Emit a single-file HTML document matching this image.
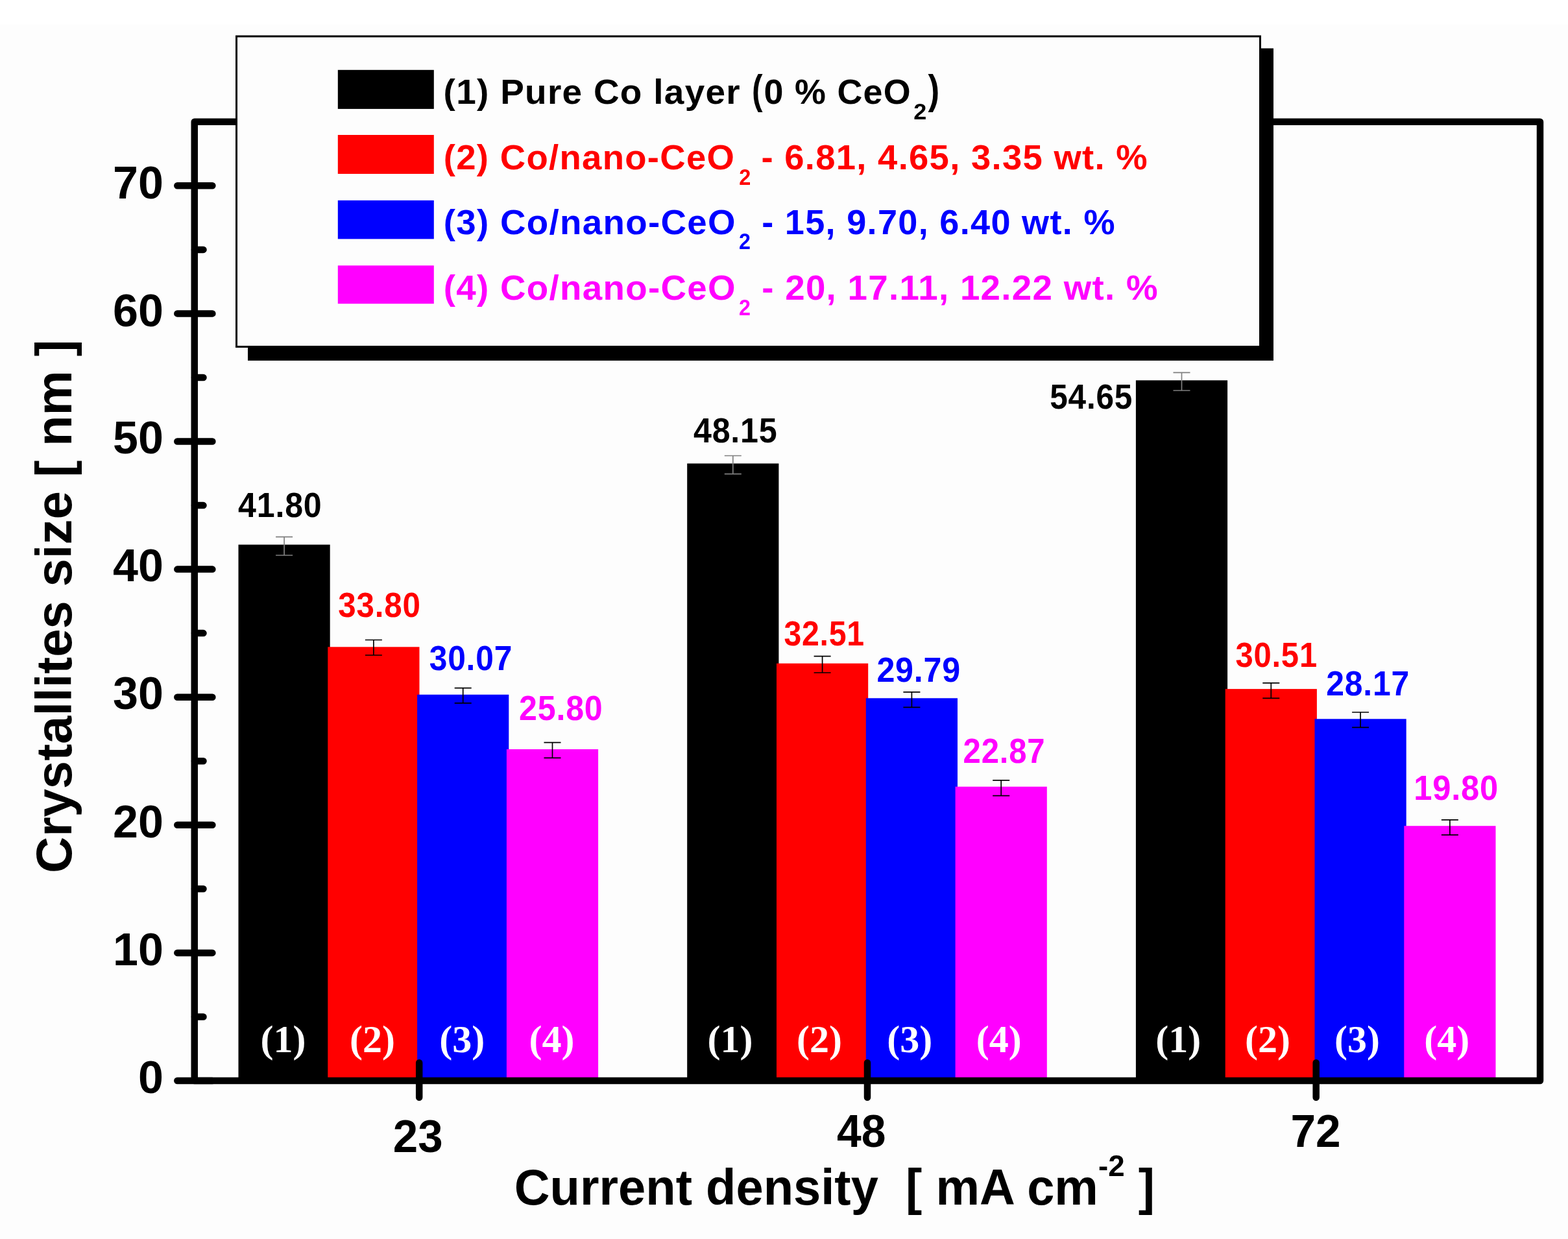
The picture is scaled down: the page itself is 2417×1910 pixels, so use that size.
<!DOCTYPE html>
<html><head><meta charset="utf-8"><title>Crystallites size vs current density</title>
<style>html,body{margin:0;padding:0;background:#fdfdfd;}svg{display:block;}</style></head>
<body>
<svg width="2417" height="1910" viewBox="0 0 2417 1910">
<rect x="0" y="0" width="2417" height="1910" fill="#fdfdfd"/>
<rect x="0" y="0" width="2417" height="38" fill="#ffffff"/>
<rect x="367.5" y="839.6" width="141.2" height="826.4" fill="#000000"/>
<rect x="505.3" y="997.3" width="141.2" height="668.7" fill="#ff0000"/>
<rect x="643.1" y="1070.8" width="141.2" height="595.2" fill="#0000ff"/>
<rect x="780.9" y="1155.0" width="141.2" height="511.0" fill="#ff00ff"/>
<rect x="1059.2" y="714.5" width="141.2" height="951.5" fill="#000000"/>
<rect x="1197.0" y="1022.7" width="141.2" height="643.3" fill="#ff0000"/>
<rect x="1334.8" y="1076.3" width="141.2" height="589.7" fill="#0000ff"/>
<rect x="1472.6" y="1212.7" width="141.2" height="453.3" fill="#ff00ff"/>
<rect x="1750.9" y="586.3" width="141.2" height="1079.7" fill="#000000"/>
<rect x="1888.7" y="1062.1" width="141.2" height="603.9" fill="#ff0000"/>
<rect x="2026.5" y="1108.3" width="141.2" height="557.7" fill="#0000ff"/>
<rect x="2164.3" y="1273.2" width="141.2" height="392.8" fill="#ff00ff"/>
<path d="M425.1 827.6H451.1M438.1 827.6V856.0M425.1 856.0H451.1" stroke="#808080" stroke-width="1.7" fill="none"/>
<path d="M562.9 986.5H588.9M575.9 986.5V1010.0M562.9 1010.0H588.9" stroke="#000" stroke-width="1.7" fill="none"/>
<path d="M700.7 1060.6H726.7M713.7 1060.6V1083.9M700.7 1083.9H726.7" stroke="#000" stroke-width="1.7" fill="none"/>
<path d="M838.5 1144.7H864.5M851.5 1144.7V1168.3M838.5 1168.3H864.5" stroke="#000" stroke-width="1.7" fill="none"/>
<path d="M1116.8 702.5H1142.8M1129.8 702.5V730.6M1116.8 730.6H1142.8" stroke="#808080" stroke-width="1.7" fill="none"/>
<path d="M1254.6 1011.7H1280.6M1267.6 1011.7V1037.0M1254.6 1037.0H1280.6" stroke="#000" stroke-width="1.7" fill="none"/>
<path d="M1392.4 1066.8H1418.4M1405.4 1066.8V1090.3M1392.4 1090.3H1418.4" stroke="#000" stroke-width="1.7" fill="none"/>
<path d="M1530.2 1202.8H1556.2M1543.2 1202.8V1226.6M1530.2 1226.6H1556.2" stroke="#000" stroke-width="1.7" fill="none"/>
<path d="M1808.5 574.3H1834.5M1821.5 574.3V602.0M1808.5 602.0H1834.5" stroke="#808080" stroke-width="1.7" fill="none"/>
<path d="M1946.3 1052.9H1972.3M1959.3 1052.9V1076.3M1946.3 1076.3H1972.3" stroke="#000" stroke-width="1.7" fill="none"/>
<path d="M2084.1 1098.0H2110.1M2097.1 1098.0V1121.4M2084.1 1121.4H2110.1" stroke="#000" stroke-width="1.7" fill="none"/>
<path d="M2221.9 1263.9H2247.9M2234.9 1263.9V1287.2M2221.9 1287.2H2247.9" stroke="#000" stroke-width="1.7" fill="none"/>
<rect x="299.75" y="187.75" width="2074.25" height="1478.25" fill="none" stroke="#000" stroke-width="10.5" stroke-linejoin="round"/>
<path d="M273.3 1666.0H327.4 M273.3 1468.9H327.4 M273.3 1271.8H327.4 M273.3 1074.7H327.4 M273.3 877.6H327.4 M273.3 680.5H327.4 M273.3 483.4H327.4 M273.3 286.3H327.4 M300 1567.5H313.5 M300 1370.3H313.5 M300 1173.2H313.5 M300 976.1H313.5 M300 779.1H313.5 M300 582.0H313.5 M300 384.9H313.5 M646.2 1638.3V1691.7 M1337.0 1638.3V1691.7 M2028.7 1638.3V1691.7" stroke="#000" stroke-width="10.5" stroke-linecap="round" fill="none"/>
<rect x="382.0" y="74.5" width="1581.0" height="481.4" fill="#000"/>
<rect x="364.5" y="56.0" width="1578.0" height="478.5" fill="#fdfdfd" stroke="#000" stroke-width="3"/>
<rect x="520.8" y="107.8" width="148" height="60.1" fill="#000000"/>
<rect x="520.8" y="208" width="148" height="60.0" fill="#ff0000"/>
<rect x="520.8" y="308.9" width="148" height="59.5" fill="#0000ff"/>
<rect x="520.8" y="409.3" width="148" height="58.9" fill="#ff00ff"/>
<text x="250" y="1684.0" font-size="70" font-family='"Liberation Sans", Arial, Helvetica, sans-serif' font-weight="bold" text-anchor="start" fill="#000" transform="matrix(1.00000 0 0 1.00000 -37.00 1.00)">0</text>
<text x="250" y="1486.9" font-size="70" font-family='"Liberation Sans", Arial, Helvetica, sans-serif' font-weight="bold" text-anchor="start" fill="#000" transform="matrix(1.00000 0 0 1.00000 -76.00 0.90)">10</text>
<text x="250" y="1289.8" font-size="70" font-family='"Liberation Sans", Arial, Helvetica, sans-serif' font-weight="bold" text-anchor="start" fill="#000" transform="matrix(1.00000 0 0 1.00000 -76.00 0.80)">20</text>
<text x="250" y="1092.7" font-size="70" font-family='"Liberation Sans", Arial, Helvetica, sans-serif' font-weight="bold" text-anchor="start" fill="#000" transform="matrix(1.00000 0 0 1.00000 -76.00 0.70)">30</text>
<text x="250" y="895.6" font-size="70" font-family='"Liberation Sans", Arial, Helvetica, sans-serif' font-weight="bold" text-anchor="start" fill="#000" transform="matrix(1.00000 0 0 1.00000 -76.00 0.60)">40</text>
<text x="250" y="698.5" font-size="70" font-family='"Liberation Sans", Arial, Helvetica, sans-serif' font-weight="bold" text-anchor="start" fill="#000" transform="matrix(1.00000 0 0 1.00000 -76.00 0.50)">50</text>
<text x="250" y="501.4000000000001" font-size="70" font-family='"Liberation Sans", Arial, Helvetica, sans-serif' font-weight="bold" text-anchor="start" fill="#000" transform="matrix(1.00000 0 0 1.00000 -76.00 1.40)">60</text>
<text x="250" y="304.29999999999995" font-size="70" font-family='"Liberation Sans", Arial, Helvetica, sans-serif' font-weight="bold" text-anchor="start" fill="#000" transform="matrix(1.00000 0 0 1.00000 -76.00 1.30)">70</text>
<text x="644.1" y="1774.2" font-size="70" font-family='"Liberation Sans", Arial, Helvetica, sans-serif' font-weight="bold" text-anchor="middle" fill="#000" transform="matrix(0.98611 0 0 1.00000 9.04 1.60)">23</text>
<text x="1327.15" y="1766.1" font-size="70" font-family='"Liberation Sans", Arial, Helvetica, sans-serif' font-weight="bold" text-anchor="middle" fill="#000" transform="matrix(0.96933 0 0 1.00000 41.33 1.50)">48</text>
<text x="2028.5" y="1766.1" font-size="70" font-family='"Liberation Sans", Arial, Helvetica, sans-serif' font-weight="bold" text-anchor="middle" fill="#000" transform="matrix(0.99167 0 0 1.00000 16.41 1.50)">72</text>
<text x="431.15" y="796.4" font-size="54" font-family='"Liberation Sans", Arial, Helvetica, sans-serif' font-weight="bold" text-anchor="middle" fill="#000000" transform="matrix(1.00400 0 0 1.00000 -1.07 0.80) translate(431.15,0) scale(0.925,1) translate(-431.15,0)" letter-spacing="0.85">41.80</text>
<text x="584.2" y="950.5" font-size="54" font-family='"Liberation Sans", Arial, Helvetica, sans-serif' font-weight="bold" text-anchor="middle" fill="#ff0000" transform="matrix(0.98880 0 0 1.00000 7.24 0.90) translate(584.20,0) scale(0.925,1) translate(-584.20,0)" letter-spacing="0.85">33.80</text>
<text x="724.95" y="1032.9" font-size="54" font-family='"Liberation Sans", Arial, Helvetica, sans-serif' font-weight="bold" text-anchor="middle" fill="#0000ff" transform="matrix(0.99597 0 0 1.00000 3.87 0.30) translate(724.95,0) scale(0.925,1) translate(-724.95,0)" letter-spacing="0.85">30.07</text>
<text x="864.15" y="1110" font-size="54" font-family='"Liberation Sans", Arial, Helvetica, sans-serif' font-weight="bold" text-anchor="middle" fill="#ff00ff" transform="matrix(1.00400 0 0 1.00000 -2.80 0.40) translate(864.15,0) scale(0.925,1) translate(-864.15,0)" letter-spacing="0.85">25.80</text>
<text x="1133.1" y="681.2" font-size="54" font-family='"Liberation Sans", Arial, Helvetica, sans-serif' font-weight="bold" text-anchor="middle" fill="#000000" transform="matrix(1.00480 0 0 1.00000 -4.84 0.60) translate(1133.10,0) scale(0.925,1) translate(-1133.10,0)" letter-spacing="0.85">48.15</text>
<text x="1270.1" y="994.2" font-size="54" font-family='"Liberation Sans", Arial, Helvetica, sans-serif' font-weight="bold" text-anchor="middle" fill="#ff0000" transform="matrix(0.96640 0 0 1.00000 43.26 0.60) translate(1270.10,0) scale(0.925,1) translate(-1270.10,0)" letter-spacing="0.85">32.51</text>
<text x="1415.85" y="1050.4" font-size="54" font-family='"Liberation Sans", Arial, Helvetica, sans-serif' font-weight="bold" text-anchor="middle" fill="#0000ff" transform="matrix(1.00560 0 0 1.00000 -7.58 0.80) translate(1415.85,0) scale(0.925,1) translate(-1415.85,0)" letter-spacing="0.85">29.79</text>
<text x="1547.25" y="1175.8" font-size="54" font-family='"Liberation Sans", Arial, Helvetica, sans-serif' font-weight="bold" text-anchor="middle" fill="#ff00ff" transform="matrix(0.98320 0 0 1.00000 26.73 0.20) translate(1547.25,0) scale(0.925,1) translate(-1547.25,0)" letter-spacing="0.85">22.87</text>
<text x="1681.85" y="629.5" font-size="54" font-family='"Liberation Sans", Arial, Helvetica, sans-serif' font-weight="bold" text-anchor="middle" fill="#000000" transform="matrix(0.99120 0 0 1.00000 15.15 0.90) translate(1681.85,0) scale(0.925,1) translate(-1681.85,0)" letter-spacing="0.85">54.65</text>
<text x="1967.1" y="1028" font-size="54" font-family='"Liberation Sans", Arial, Helvetica, sans-serif' font-weight="bold" text-anchor="middle" fill="#ff0000" transform="matrix(0.98080 0 0 1.00000 38.36 0.40) translate(1967.10,0) scale(0.925,1) translate(-1967.10,0)" letter-spacing="0.85">30.51</text>
<text x="2108.1" y="1071.3" font-size="54" font-family='"Liberation Sans", Arial, Helvetica, sans-serif' font-weight="bold" text-anchor="middle" fill="#0000ff" transform="matrix(0.99840 0 0 1.00000 3.97 0.70) translate(2108.10,0) scale(0.925,1) translate(-2108.10,0)" letter-spacing="0.85">28.17</text>
<text x="2244.85" y="1233" font-size="54" font-family='"Liberation Sans", Arial, Helvetica, sans-serif' font-weight="bold" text-anchor="middle" fill="#ff00ff" transform="matrix(1.01557 0 0 1.00000 -35.11 0.40) translate(2244.85,0) scale(0.925,1) translate(-2244.85,0)" letter-spacing="0.85">19.80</text>
<text x="436.45000000000005" y="1621.5" font-size="60" font-family='"Liberation Serif", "Times New Roman", serif' font-weight="bold" text-anchor="middle" fill="#fff" transform="matrix(1.00000 0 0 1.00000 -0.05 0.30)">(1)</text>
<text x="574.2" y="1621.5" font-size="60" font-family='"Liberation Serif", "Times New Roman", serif' font-weight="bold" text-anchor="middle" fill="#fff" transform="matrix(1.00000 0 0 1.00000 -0.30 0.30)">(2)</text>
<text x="712.4" y="1621.5" font-size="60" font-family='"Liberation Serif", "Times New Roman", serif' font-weight="bold" text-anchor="middle" fill="#fff" transform="matrix(1.00000 0 0 1.00000 -0.10 0.30)">(3)</text>
<text x="850.55" y="1621.5" font-size="60" font-family='"Liberation Serif", "Times New Roman", serif' font-weight="bold" text-anchor="middle" fill="#fff" transform="matrix(1.00000 0 0 1.00000 0.05 0.30)">(4)</text>
<text x="1125.5" y="1621.5" font-size="60" font-family='"Liberation Serif", "Times New Roman", serif' font-weight="bold" text-anchor="middle" fill="#fff" transform="matrix(1.00000 0 0 1.00000 0.00 0.30)">(1)</text>
<text x="1263.25" y="1621.5" font-size="60" font-family='"Liberation Serif", "Times New Roman", serif' font-weight="bold" text-anchor="middle" fill="#fff" transform="matrix(1.00000 0 0 1.00000 -0.25 0.30)">(2)</text>
<text x="1401.85" y="1621.5" font-size="60" font-family='"Liberation Serif", "Times New Roman", serif' font-weight="bold" text-anchor="middle" fill="#fff" transform="matrix(1.00000 0 0 1.00000 0.35 0.30)">(3)</text>
<text x="1539.6" y="1621.5" font-size="60" font-family='"Liberation Serif", "Times New Roman", serif' font-weight="bold" text-anchor="middle" fill="#fff" transform="matrix(1.00000 0 0 1.00000 0.10 0.30)">(4)</text>
<text x="1816.1" y="1621.5" font-size="60" font-family='"Liberation Serif", "Times New Roman", serif' font-weight="bold" text-anchor="middle" fill="#fff" transform="matrix(1.00000 0 0 1.00000 0.10 0.30)">(1)</text>
<text x="1953.7" y="1621.5" font-size="60" font-family='"Liberation Serif", "Times New Roman", serif' font-weight="bold" text-anchor="middle" fill="#fff" transform="matrix(1.00000 0 0 1.00000 0.20 0.30)">(2)</text>
<text x="2092.3" y="1621.5" font-size="60" font-family='"Liberation Serif", "Times New Roman", serif' font-weight="bold" text-anchor="middle" fill="#fff" transform="matrix(1.00000 0 0 1.00000 -0.20 0.30)">(3)</text>
<text x="2230.3999999999996" y="1621.5" font-size="60" font-family='"Liberation Serif", "Times New Roman", serif' font-weight="bold" text-anchor="middle" fill="#fff" transform="matrix(1.00000 0 0 1.00000 -0.10 0.30)">(4)</text>
<text x="686" y="160.5" font-size="54.5" font-family='"Liberation Sans", Arial, Helvetica, sans-serif' font-weight="bold" text-anchor="start" fill="#000" transform="matrix(1.00711 0 0 1.00000 -7.30 0.00)" letter-spacing="1.3">(1) Pure Co layer</text>
<text x="1161" y="160.5" font-size="63" font-family='"Liberation Sans", Arial, Helvetica, sans-serif' font-weight="bold" text-anchor="start" fill="#000" transform="matrix(0.78889 0 0 1.00000 243.13 0.00)">(</text>
<text x="1179.5" y="160.5" font-size="54.5" font-family='"Liberation Sans", Arial, Helvetica, sans-serif' font-weight="bold" text-anchor="start" fill="#000" transform="matrix(0.98929 0 0 1.00000 10.56 0.00)" letter-spacing="1.3">0 % CeO</text>
<text x="1409.5" y="184.0" font-size="34.5" font-family='"Liberation Sans", Arial, Helvetica, sans-serif' font-weight="bold" text-anchor="start" fill="#000" transform="matrix(1.04375 0 0 1.00000 -62.83 0.00)">2</text>
<text x="1430" y="160.5" font-size="63" font-family='"Liberation Sans", Arial, Helvetica, sans-serif' font-weight="bold" text-anchor="start" fill="#000" transform="matrix(0.84444 0 0 1.00000 222.84 0.00)">)</text>
<text x="686.7" y="261.1" font-size="54.5" font-family='"Liberation Sans", Arial, Helvetica, sans-serif' font-weight="bold" text-anchor="start" fill="#ff0000" transform="matrix(1.00000 0 0 1.00000 -2.90 0.00)" letter-spacing="1.3">(2) Co/nano-CeO</text>
<text x="1139.9" y="284.6" font-size="34.5" font-family='"Liberation Sans", Arial, Helvetica, sans-serif' font-weight="bold" text-anchor="start" fill="#ff0000" transform="matrix(0.94118 0 0 1.00000 66.42 0.00)">2</text>
<text x="1175.5" y="261.1" font-size="54.5" font-family='"Liberation Sans", Arial, Helvetica, sans-serif' font-weight="bold" text-anchor="start" fill="#ff0000" transform="matrix(0.99848 0 0 1.00000 -0.31 0.00)" letter-spacing="1.3">- 6.81, 4.65, 3.35 wt. %</text>
<text x="686.7" y="361.0" font-size="54.5" font-family='"Liberation Sans", Arial, Helvetica, sans-serif' font-weight="bold" text-anchor="start" fill="#0000ff" transform="matrix(1.00384 0 0 1.00000 -5.55 0.00)" letter-spacing="1.3">(3) Co/nano-CeO</text>
<text x="1139.8" y="384.5" font-size="34.5" font-family='"Liberation Sans", Arial, Helvetica, sans-serif' font-weight="bold" text-anchor="start" fill="#0000ff" transform="matrix(0.93529 0 0 1.00000 73.03 0.00)">2</text>
<text x="1175.9" y="361.0" font-size="54.5" font-family='"Liberation Sans", Arial, Helvetica, sans-serif' font-weight="bold" text-anchor="start" fill="#0000ff" transform="matrix(0.99266 0 0 1.00000 6.95 0.00)" letter-spacing="1.3">- 15, 9.70, 6.40 wt. %</text>
<text x="686.7" y="462.5" font-size="54.5" font-family='"Liberation Sans", Arial, Helvetica, sans-serif' font-weight="bold" text-anchor="start" fill="#ff00ff" transform="matrix(1.00384 0 0 1.00000 -5.55 0.00)" letter-spacing="1.3">(4) Co/nano-CeO</text>
<text x="1139.8" y="486.0" font-size="34.5" font-family='"Liberation Sans", Arial, Helvetica, sans-serif' font-weight="bold" text-anchor="start" fill="#ff00ff" transform="matrix(0.93529 0 0 1.00000 73.03 0.00)">2</text>
<text x="1175.9" y="462.5" font-size="54.5" font-family='"Liberation Sans", Arial, Helvetica, sans-serif' font-weight="bold" text-anchor="start" fill="#ff00ff" transform="matrix(1.00347 0 0 1.00000 -5.79 0.00)" letter-spacing="1.3">- 20, 17.11, 12.22 wt. %</text>
<text x="795" y="1857.5" font-size="78" font-family='"Liberation Sans", Arial, Helvetica, sans-serif' font-weight="bold" text-anchor="start" fill="#000" transform="matrix(0.97388 0 0 1.00000 18.44 0.00)" xml:space="preserve">Current density  [ mA cm<tspan font-size="47" dy="-44">-2</tspan><tspan dy="44"> ]</tspan></text>
<text x="0" y="0" font-size="78.5" font-family='"Liberation Sans", Arial, Helvetica, sans-serif' font-weight="bold" text-anchor="start" fill="#000" transform="matrix(1.00000 0 0 0.99257 -0.90 13.06) translate(111,1343) rotate(-90)">Crystallites size [ nm ]</text>
</svg>
</body></html>
